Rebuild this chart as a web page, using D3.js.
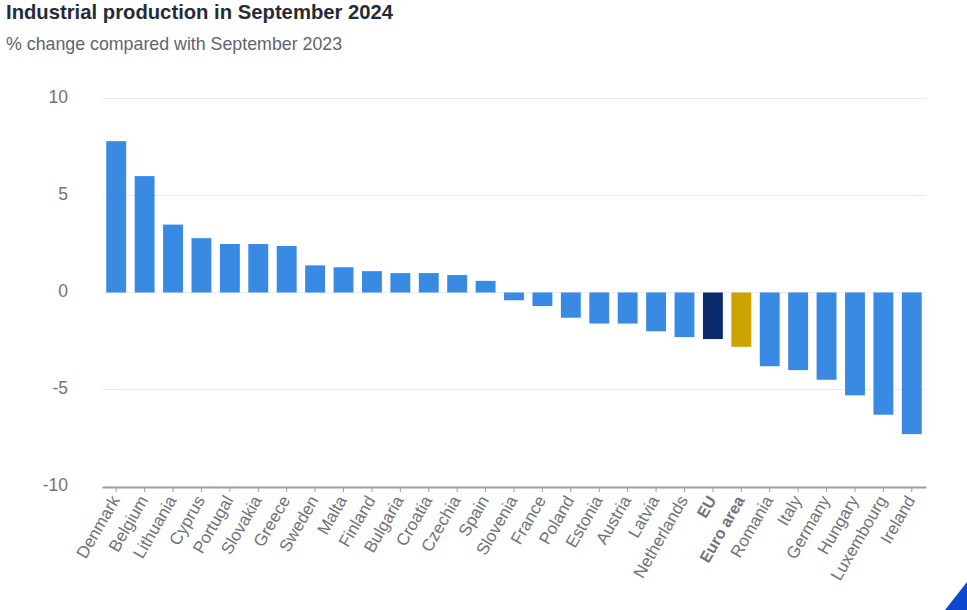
<!DOCTYPE html>
<html>
<head>
<meta charset="utf-8">
<script src="https://cdn.jsdelivr.net/npm/d3@7/dist/d3.min.js"></script>
<style>
  html, body { margin: 0; padding: 0; background: #fff; overflow: hidden; }
  svg { display: block; font-family: "Liberation Sans", Arial, sans-serif; }
</style>
</head>
<body>
<svg id="chart" width="967" height="610"></svg>
<script>
const countries = ['Denmark', 'Belgium', 'Lithuania', 'Cyprus', 'Portugal', 'Slovakia', 'Greece', 'Sweden', 'Malta', 'Finland',
  'Bulgaria', 'Croatia', 'Czechia', 'Spain', 'Slovenia', 'France', 'Poland', 'Estonia', 'Austria', 'Latvia',
  'Netherlands', 'EU', 'Euro area', 'Romania', 'Italy', 'Germany', 'Hungary', 'Luxembourg', 'Ireland'];
const changes = [7.8, 6.0, 3.5, 2.8, 2.5, 2.5, 2.4, 1.4, 1.3, 1.1,
  1.0, 1.0, 0.9, 0.6, -0.4, -0.7, -1.3, -1.6, -1.6, -2.0,
  -2.3, -2.4, -2.8, -3.8, -4.0, -4.5, -5.3, -6.3, -7.3];
const yTicks = [10, 5, 0, -5, -10];

const COLORS = { bar: '#388ae2', EU: '#0b2a6f', 'Euro area': '#cca300' };

const svg = d3.select('#chart');
const data = countries.map((name, i) => ({ name, value: changes[i] }));

const x = d3.scaleBand().domain(countries).range([102, 926]).paddingInner(0.3).paddingOuter(0.15);
const y = d3.scaleLinear().domain([-10, 10]).range([486.5, 98.5]);

// Title block
svg.append('text').attr('x', 6).attr('y', 19)
  .attr('font-size', 20.25).attr('font-weight', 700).attr('fill', '#262b38')
  .text('Industrial production in September 2024');
svg.append('text').attr('x', 6).attr('y', 50)
  .attr('font-size', 17.8).attr('fill', '#5f6470')
  .text('% change compared with September 2023');

// Grid lines
svg.append('g').selectAll('line')
  .data(yTicks.filter(d => d !== -10))
  .join('line')
  .attr('x1', 102).attr('x2', 926)
  .attr('y1', d => y(d)).attr('y2', d => y(d))
  .attr('stroke', '#e6ebf5').attr('stroke-width', 1);

// Y labels
svg.append('g').selectAll('text')
  .data(yTicks)
  .join('text')
  .attr('x', 68).attr('y', d => y(d) + 4)
  .attr('text-anchor', 'end')
  .attr('font-size', 17.5)
  .attr('fill', '#70737c')
  .text(d => d);

// Bars
svg.append('g').selectAll('rect')
  .data(data)
  .join('rect')
  .attr('x', d => x(d.name))
  .attr('width', x.bandwidth())
  .attr('y', d => y(Math.max(0, d.value)))
  .attr('height', d => Math.abs(y(d.value) - y(0)))
  .attr('fill', d => COLORS[d.name] || COLORS.bar);

// X axis
const xAxis = svg.append('g')
  .attr('transform', 'translate(0,487)')
  .call(d3.axisBottom(x).tickSizeInner(5).tickSizeOuter(0));
xAxis.select('.domain').attr('stroke', '#9a9ca6').attr('stroke-width', 2);
xAxis.selectAll('.tick line').attr('stroke', '#9a9ca6');
xAxis.selectAll('.tick text')
  .attr('font-family', '"Liberation Sans", Arial, sans-serif')
  .attr('font-size', d => (d === 'EU' || d === 'Euro area') ? 16 : 17)
  .attr('fill', '#70737c')
  .attr('font-weight', d => (d === 'EU' || d === 'Euro area') ? 700 : 400)
  .attr('text-anchor', 'end')
  .attr('x', 0).attr('y', 0).attr('dy', 0)
  .attr('transform', 'translate(4,13) rotate(-60)');

// Corner mark
const corner = d3.path();
corner.moveTo(967, 582);
corner.lineTo(967, 610);
corner.lineTo(945, 610);
corner.closePath();
svg.append('path').attr('d', corner.toString()).attr('fill', '#0d47cf');
</script>
</body>
</html>
